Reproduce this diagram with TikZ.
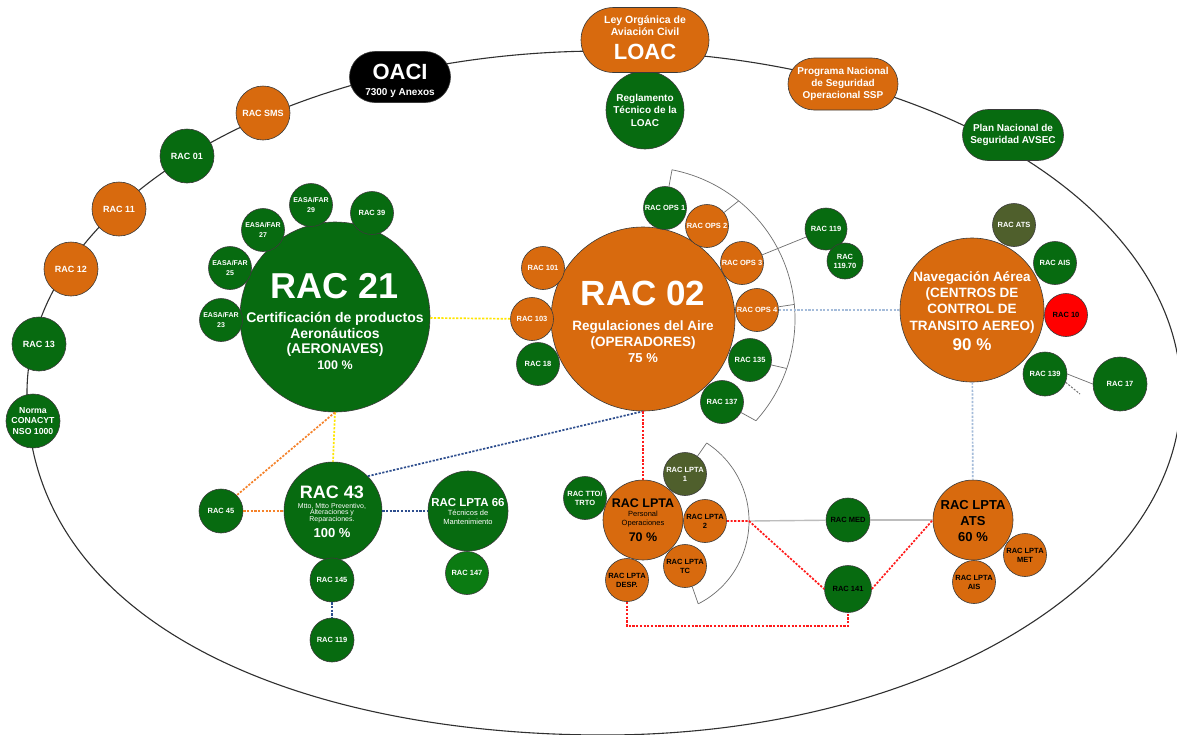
\documentclass[tikz,border=0pt]{standalone}
\usepackage{fontspec}
\setmainfont{Liberation Sans}
\usetikzlibrary{shapes.misc,calc}
\definecolor{cOr}{HTML}{D86A0E}
\definecolor{cGr}{HTML}{076B10}
\definecolor{cGrB}{HTML}{0B7B12}
\definecolor{cOl}{HTML}{4F5F2C}
\definecolor{cRed}{HTML}{FF0000}
\definecolor{cBord}{HTML}{3A3A3A}
\definecolor{cLine}{HTML}{303030}
\definecolor{cBrk}{HTML}{6E6E6E}
\definecolor{cGray}{HTML}{BDBDBD}
\definecolor{cNavy}{HTML}{2E4E8E}
\definecolor{cLBlue}{HTML}{A5BCDA}
\definecolor{cYel}{HTML}{FFE600}
\definecolor{cOrD}{HTML}{F5822A}
\definecolor{cRedD}{HTML}{FF1A1A}
\tikzset{
  bnode/.style={draw=cBord, line width=0.6pt, inner sep=0pt, align=center, text=white},
  circ/.style={bnode, circle, font=\bfseries\fontsize{7.5}{9}\selectfont},
  gc/.style={circ, fill=cGr},
  oc/.style={circ, fill=cOr},
  olc/.style={circ, fill=cOl},
  sat/.style={minimum size=43pt},
  ringc/.style={minimum size=54pt, font=\bfseries\fontsize{9}{10.7}\selectfont},
  easa/.style={gc, sat, font=\bfseries\fontsize{7}{9.5}\selectfont},
  dark/.style={text=black},
  pill/.style={bnode, rounded rectangle, font=\bfseries\fontsize{10}{12}\selectfont},
  txt/.style={inner sep=0pt, anchor=base, text=white},
  fs/.style={font=\bfseries\fontsize{#1}{#1}\selectfont},
  fr/.style={font=\fontsize{#1}{#1}\selectfont},
  ringline/.style={draw=cLine, line width=1.1pt},
  dsh/.style={line width=1.7pt, dash pattern=on 2.2pt off 1.5pt},
  brk/.style={draw=cBrk, line width=0.7pt},
  gline/.style={draw=cGray, line width=1.4pt},
}
\begin{document}
\begin{tikzpicture}[x=1pt,y=-1pt]
\useasboundingbox (0,0) rectangle (1177,734);
\fill[white] (0,0) rectangle (1177,734);

% outer ring
\draw[ringline] (27,393) .. controls (27,204) and (285,51) .. (604,51)
  .. controls (923,51) and (1181,204) .. (1181,393)
  .. controls (1181,582) and (923,735) .. (604,735)
  .. controls (300,735) and (27,625) .. (27,393) -- cycle;

% top items
\node[pill, fill=black, minimum width=101pt, minimum height=51pt] (oaci) at (400,77) {};
\node[txt, fs=22] (oacit) at (400,79) {OACI};
\node[txt, fs=10] (oacis) at (400,95) {7300 y Anexos};

\node[gc, minimum size=78pt, font=\bfseries\fontsize{10}{12.5}\selectfont] (regl) at (645,110) {Reglamento\\Técnico de la\\LOAC};
\node[pill, fill=cOr, minimum width=128pt, minimum height=65pt] (loac) at (645,40) {};
\node[txt, fs=10.5] (loaca) at (645,23) {Ley Orgánica de};
\node[txt, fs=10.5] (loacb) at (645,35) {Aviación Civil};
\node[txt, fs=22] (loacc) at (645,59) {LOAC};

\node[pill, fill=cOr, minimum width=110pt, minimum height=52pt] (ssp) at (843,84) {Programa Nacional\\de Seguridad\\Operacional SSP};
\node[pill, fill=cGr, minimum width=101pt, minimum height=51pt] (avsec) at (1013,135) {Plan Nacional de\\Seguridad AVSEC};

% ring circles
\node[oc, ringc] (racsms) at (263,113) {RAC SMS};
\node[gc, ringc] (rac01) at (187,156) {RAC 01};
\node[oc, ringc] (rac11) at (119,209) {RAC 11};
\node[oc, ringc] (rac12) at (71,269) {RAC 12};
\node[gc, ringc] (rac13) at (39,344) {RAC 13};
\node[gc, ringc, font=\bfseries\fontsize{8.7}{10.7}\selectfont] (norma) at (33,421) {Norma\\CONACYT\\NSO 1000};

% RAC 21 cluster
\node[gc, minimum size=190pt] (rac21) at (335,317) {};
\node[easa] (easa23) at (221,320) {EASA/FAR\\23};
\node[easa] (easa25) at (230,268) {EASA/FAR\\25};
\node[easa] (easa27) at (263,230) {EASA/FAR\\27};
\node[easa] (easa29) at (311,205) {EASA/FAR\\29};
\node[gc, sat] (rac39) at (372,213) {RAC 39};
\node[txt, fs=36] (r21a) at (335,298) {RAC 21};
\node[txt, fs=14] (r21b) at (335,322) {Certificación de productos};
\node[txt, fs=14] (r21c) at (335,338) {Aeronáuticos};
\node[txt, fs=14] (r21d) at (335,353) {(AERONAVES)};
\node[txt, fs=12.5] (r21e) at (335,369) {100 \%};

% RAC 02 cluster
\node[oc, minimum size=184pt] (rac02) at (643,319) {};
\node[oc, sat] (rac101) at (543,268) {RAC 101};
\node[oc, sat] (rac103) at (532,319) {RAC 103};
\node[gc, sat] (rac18) at (538,364) {RAC 18};
\node[gc, sat] (ops1) at (665,208) {RAC OPS 1};
\node[oc, sat] (ops2) at (707,226) {RAC OPS 2};
\node[oc, sat] (ops3) at (742,263) {RAC OPS 3};
\node[oc, sat] (ops4) at (757,310) {RAC OPS 4};
\node[gc, sat] (rac135) at (750,360) {RAC 135};
\node[gc, sat] (rac137) at (722,402) {RAC 137};
\node[txt, fs=35] (r02a) at (643,305) {RAC 02};
\node[txt, fs=13.5] (r02b) at (643,330) {Regulaciones del Aire};
\node[txt, fs=13.5] (r02c) at (643,346) {(OPERADORES)};
\node[txt, fs=13] (r02d) at (643,362) {75 \%};

\node[gc, minimum size=42pt] (rac119a) at (826,229) {RAC 119};
\node[gc, minimum size=36pt] (rac11970) at (845,261) {RAC\\119.70};

% bracket around RAC 02 satellites
\coordinate (a1) at ($(rac02.center)+(79:152pt)$);
\coordinate (a2) at ($(rac02.center)+(51:152pt)$);
\coordinate (a4) at ($(rac02.center)+(5.5:152pt)$);
\coordinate (a5) at ($(rac02.center)+(-19:152pt)$);
\coordinate (a6) at ($(rac02.center)+(-42:152pt)$);
\draw[brk] (a6) arc[start angle=-42, end angle=79, radius=152pt];
\draw[brk] (a1) -- (ops1);
\draw[brk] (a2) -- (ops2);
\draw[brk] (a4) -- (ops4);
\draw[brk] (a5) -- (rac135);
\draw[brk] (a6) -- (rac137);
\draw[brk] (ops3) -- (rac119a);

% Navegacion cluster
\node[oc, minimum size=144pt] (nav) at (972,310) {};
\node[olc, sat] (racats) at (1014,225) {RAC ATS};
\node[gc, sat] (racais) at (1055,263) {RAC AIS};
\node[circ, sat, fill=cRed, dark] (rac10) at (1066,315) {RAC 10};
\node[gc, minimum size=44pt] (rac139) at (1045,374) {RAC 139};
\node[gc, minimum size=54pt] (rac17) at (1120,384) {RAC 17};
\node[txt, fs=13.5] (nava) at (972,281) {Navegación Aérea};
\node[txt, fs=13.5] (navb) at (972,297) {(CENTROS DE};
\node[txt, fs=13.5] (navc) at (972,313) {CONTROL DE};
\node[txt, fs=13.5] (navd) at (972,330) {TRANSITO AEREO)};
\node[txt, fs=17] (nave) at (972,350) {90 \%};
\draw[brk] (rac139.east) -- (rac17.west);
\coordinate (stub) at (1080,394);
\draw[draw=cBrk, line width=1pt, dash pattern=on 2pt off 1.5pt] (rac139.-22) -- (stub);

% bottom-left cluster
\node[gc, minimum size=44pt] (rac45) at (221,511) {RAC 45};
\node[gc, minimum size=98pt] (rac43) at (333,511) {};
\node[txt, fs=18] (r43a) at (332,498) {RAC 43};
\node[txt, fr=7] (r43b) at (332,508) {Mtto, Mtto Preventivo,};
\node[txt, fr=7] (r43c) at (332,514.5) {Alteraciones y};
\node[txt, fr=7] (r43d) at (332,521) {Reparaciones.};
\node[txt, fs=13] (r43e) at (332,537) {100 \%};
\node[gc, minimum size=80pt] (lpta66) at (468,511) {};
\node[txt, fs=11.5] (l66a) at (468,506) {RAC LPTA 66};
\node[txt, fr=7.5] (l66b) at (468,515) {Técnicos de};
\node[txt, fr=7.5] (l66c) at (468,524) {Mantenimiento};
\node[circ, sat, fill=cGrB] (rac147) at (467,573) {RAC 147};
\node[gc, minimum size=44pt] (rac145) at (332,580) {RAC 145};
\node[gc, minimum size=44pt] (rac119b) at (332,640) {RAC 119};

% LPTA cluster
\node[oc, minimum size=80pt] (lpta) at (643,520) {};
\node[txt, fs=12.5, text=black] (lpa) at (643,507) {RAC LPTA};
\node[txt, fr=7.5, text=black] (lpb) at (643,516) {Personal};
\node[txt, fr=7.5, text=black] (lpc) at (643,525) {Operaciones};
\node[txt, fs=12.5, text=black] (lpd) at (643,541) {70 \%};
\node[gc, sat] (tto) at (585,498) {RAC TTO/\\TRTO};
\node[olc, sat] (lpta1) at (685,474) {RAC LPTA\\1};
\node[oc, sat, dark] (lpta2) at (705,521) {RAC LPTA\\2};
\node[oc, sat, dark] (lptatc) at (685,566) {RAC LPTA\\TC};
\node[oc, sat, dark] (lptadesp) at (627,580) {RAC LPTA\\DESP.};
\node[gc, minimum size=44pt, dark] (racmed) at (848,520) {RAC MED};
\node[gc, minimum size=47pt, dark] (rac141) at (848,589) {RAC 141};
\node[oc, minimum size=80pt] (lptaats) at (973,520) {};
\node[txt, fs=13, text=black] (laa) at (973,509) {RAC LPTA};
\node[txt, fs=13, text=black] (lab) at (973,525) {ATS};
\node[txt, fs=13, text=black] (lac) at (973,541) {60 \%};
\node[oc, sat, dark] (lptamet) at (1025,555) {RAC LPTA\\MET};
\node[oc, sat, dark] (lptaais) at (974,582) {RAC LPTA\\AIS};

% bracket around LPTA satellites
\coordinate (lc) at (656,521);
\coordinate (ltop) at ($(lc)+(57:93pt)$);
\coordinate (lbot) at ($(lc)+(-63:93pt)$);
\coordinate (bm) at ($(lc)+(0:93pt)$);
\draw[brk] (lbot) arc[start angle=-63, end angle=57, radius=93pt];
\draw[brk] (ltop) -- (lpta1);
\draw[brk] (lbot) -- (lptatc);

% gray solid links
\draw[gline] (bm) -- (racmed);
\draw[gline] (racmed) -- (lptaats);

% dashed links
\draw[dsh, cYel] (rac21) -- (rac103);
\draw[dsh, cYel] (rac21.south) -- (rac43.north);
\draw[dsh, cOrD] (rac21.south) -- (rac45.north east);
\draw[dsh, cOrD] (rac45) -- (rac43);
\draw[dsh, cNavy] (rac43.north east) -- (rac02.south);
\draw[dsh, cNavy] (rac43) -- (lpta66);
\draw[dsh, cNavy] (rac145) -- (rac119b);
\draw[dsh, cRedD] (rac02.south) -- (lpta.north);
\draw[dsh, cLBlue] (ops4) -- (nav);
\draw[dsh, cLBlue] (nav) -- (lptaats);
\draw[dsh, cRedD] (lpta2) -- (bm) -- (rac141.west);
\draw[dsh, cRedD] (rac141.east) -- (lptaats.west);
\coordinate (redbot) at (740,626);
\draw[dsh, cRedD] (lptadesp.south) -- (lptadesp.south |- redbot) -- (rac141.south |- redbot) -- (rac141.south);
\end{tikzpicture}
\end{document}
